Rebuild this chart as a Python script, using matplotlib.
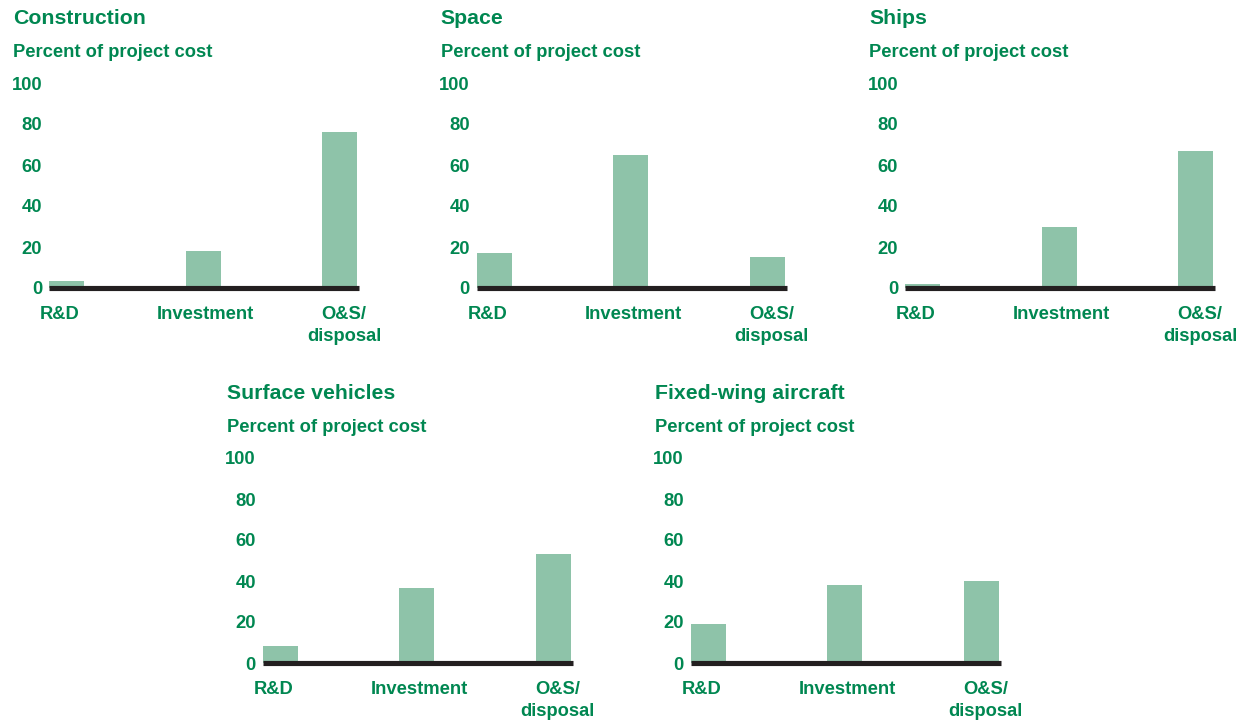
import matplotlib
matplotlib.use("Agg")
import matplotlib.pyplot as plt
import matplotlib.transforms as mtransforms

# ── data ──────────────────────────────────────────────────────────────
panel_titles = ["Construction", "Space", "Ships", "Surface vehicles", "Fixed-wing aircraft"]
categories = ["R&D", "Investment", "O&S/\ndisposal"]
construction = [3.5, 18, 76]
space = [17, 65, 15]
ships = [1.8, 30, 67]
surface_vehicles = [8.5, 36.5, 53]
fixed_wing = [19, 38, 40]
y_ticks = [0, 20, 40, 60, 80, 100]
y_label = "Percent of project cost"

series = [construction, space, ships, surface_vehicles, fixed_wing]

# ── style ─────────────────────────────────────────────────────────────
GREEN = "#008751"
BAR = "#8ec3a9"
BASE = "#231f20"
plt.rcParams["font.family"] = ["Liberation Sans", "DejaVu Sans"]
plt.rcParams["font.weight"] = "bold"

W, H = 1245, 723
fig = plt.figure(figsize=(W / 100, H / 100), dpi=100)

# panel placement in pixels: (axis left, y of zero line)
slots = [(49, 288), (476.7, 288), (905, 288), (262.7, 663), (690.7, 663)]
ax_w, ax_h = 310, 205
step = 136.5                     # px between category centres
lo = -17.5 / step
hi = (ax_w - 17.5) / step
bar_w = 35 / step
label_nudge = [-7, 2.5, 4.5]     # px, category labels sit slightly off-centre

for title, vals, (lx, zy) in zip(panel_titles, series, slots):
    ax = fig.add_axes([lx / W, (H - zy) / H, ax_w / W, ax_h / H])
    x = list(range(len(categories)))
    ax.bar(x, vals, width=bar_w, color=BAR, zorder=2)
    ax.axhline(0, color=BASE, lw=3.7, zorder=3, clip_on=False,
               solid_capstyle="butt")
    ax.set_xlim(lo, hi)
    ax.set_ylim(0, 100)
    ax.set_yticks(y_ticks)
    ax.set_yticklabels([str(t) for t in y_ticks])
    ax.set_xticks(x)
    ax.set_xticklabels(categories)
    ax.tick_params(axis="y", length=0, pad=5, labelsize=13.2, labelcolor=GREEN)
    ax.tick_params(axis="x", length=0, pad=13.2, labelsize=13.2, labelcolor=GREEN)
    for lab in ax.get_xticklabels() + ax.get_yticklabels():
        lab.set_fontweight("bold")
    for lab, dx in zip(ax.get_xticklabels(), label_nudge):
        lab.set_linespacing(1.36)
        lab.set_transform(lab.get_transform() +
                          mtransforms.ScaledTranslation(dx / 100, 0, fig.dpi_scale_trans))
    for s in ax.spines.values():
        s.set_visible(False)
    ax.patch.set_alpha(0)

    # title and unit line
    fig.text((lx - 36) / W, (H - (zy - 263.7)) / H, title, color=GREEN,
             fontsize=15.3, fontweight="bold", va="baseline", ha="left")
    fig.text((lx - 36) / W, (H - (zy - 230.7)) / H, y_label, color=GREEN,
             fontsize=13.2, fontweight="bold", va="baseline", ha="left")

fig.savefig("out.png", dpi=100)
